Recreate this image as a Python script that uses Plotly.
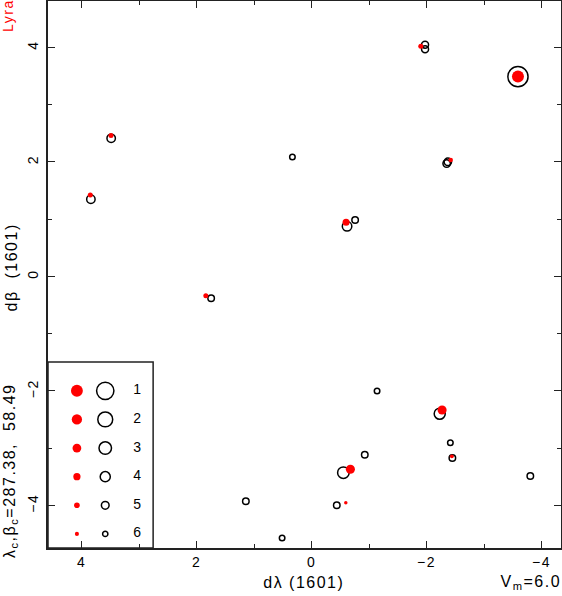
import plotly.graph_objects as go
import numpy as np

# ---- data ----
# modern positions (red filled dots)
red_dl = [-3.59, -1.90, -2.42, 3.49, 3.85, -0.60, 1.84, -2.27, -2.44, -0.675, -0.595]
red_db = [3.49, 4.02, 2.03, 2.46, 1.42, 0.943, -0.339, -2.335, -3.145, -3.371, -3.955]
red_mag = [0.9, 5.4, 5.7, 5.4, 5.4, 4.1, 5.4, 2.8, 6.1, 2.8, 6.4]

# 1601 catalogue positions (open circles)
cat_dl = [-3.59, -1.974, -1.974, -2.35, -2.37, 3.487, 3.84, 0.334, -0.617, -0.757,
          1.748, -1.139, -2.229, -2.414, -2.449, -0.925, -0.553, -3.805, 1.144,
          -0.438, 0.513]
cat_db = [3.487, 4.046, 3.966, 1.97, 2.00, 2.41, 1.345, 2.084, 0.873, 0.983,
          -0.384, -2.003, -2.40, -2.906, -3.174, -3.116, -3.43, -3.488, -3.93,
          -4.00, -4.571]
cat_mag = [-0.2, 5.3, 5.3, 5.1, 5.1, 4.7, 4.7, 5.9, 4.25, 5.5,
           5.5, 5.9, 3.6, 5.9, 5.5, 5.5, 3.4, 5.5, 5.5,
           5.5, 5.9]

legend_mags = [1, 2, 3, 4, 5, 6]
legend_labels = ["1", "2", "3", "4", "5", "6"]

x_ticks = [4, 2, 0, -2, -4]
y_ticks = [4, 2, 0, -2, -4]

constellation = "Lyra"
center_text = "λ<sub>c</sub>,β<sub>c</sub>=287.38,\u00a0 58.49"
vm_text = "V<sub>m</sub>=6.0"
x_title = "dλ\u00a0(1601)"
y_title = "dβ\u00a0 (1601)"

# ---- styling helpers ----
LINE_W = 1.5


def red_size(m):
    return [max(2.5, 13.4 - 1.55 * v) for v in m]


def open_size(m):
    return [max(5.0, 21.2 - 2.4 * v - LINE_W) for v in m]


W, H = 562, 596
L, R, T, B = 48, 1, 1, 48
XR = [4.586, -4.339]
YR = [-4.746, 4.809]
FONT = "Liberation Sans, Arial, sans-serif"

fig = go.Figure()

# open circles (catalogue)
fig.add_trace(go.Scatter(
    x=cat_dl, y=cat_db, mode="markers",
    marker=dict(symbol="circle-open", size=open_size(cat_mag), color="black",
                opacity=1, line=dict(width=LINE_W, color="black")),
    hoverinfo="skip", showlegend=False))

# red dots (modern)
fig.add_trace(go.Scatter(
    x=red_dl, y=red_db, mode="markers",
    marker=dict(symbol="circle", size=red_size(red_mag), color="#ff0000",
                opacity=1, line=dict(width=0)),
    hoverinfo="skip", showlegend=False))

# legend inside the plot
leg_y = [-2.0 - 0.5 * (m - 1) for m in legend_mags]
fig.add_trace(go.Scatter(
    x=[4.083] * len(legend_mags), y=leg_y, mode="markers",
    marker=dict(symbol="circle", size=red_size(legend_mags), color="#ff0000",
                opacity=1, line=dict(width=0)),
    hoverinfo="skip", showlegend=False))
fig.add_trace(go.Scatter(
    x=[3.59] * len(legend_mags), y=leg_y, mode="markers",
    marker=dict(symbol="circle-open", size=open_size(legend_mags), color="black",
                opacity=1, line=dict(width=LINE_W, color="black")),
    hoverinfo="skip", showlegend=False))
fig.add_trace(go.Scatter(
    x=[3.02] * len(legend_mags), y=leg_y, mode="text",
    text=legend_labels, textfont=dict(family=FONT, size=14, color="black"),
    hoverinfo="skip", showlegend=False))

fig.add_shape(type="rect", xref="x", yref="y", x0=XR[0], x1=2.757,
              y0=YR[0], y1=-1.497, line=dict(color="#222", width=1.5),
              layer="above")

axis_common = dict(
    showline=True, linecolor="#222", linewidth=1.5, mirror="allticks",
    ticks="inside", ticklen=7, tickwidth=1.2, tickcolor="#222",
    showgrid=False, zeroline=False, automargin=False,
    minor=dict(ticks="inside", ticklen=4, tickwidth=1.2, tickcolor="#222", dtick=1,
               showgrid=False),
    tickfont=dict(family=FONT, size=14, color="black"),
)

fig.update_xaxes(range=XR, tickvals=x_ticks,
                 ticktext=[str(v).replace("-", "−") for v in x_ticks],
                 ticklabelstandoff=0, **axis_common)
fig.update_yaxes(range=YR, tickvals=y_ticks,
                 ticktext=[str(v).replace("-", "−") for v in y_ticks],
                 tickangle=-90, ticklabelstandoff=3, **axis_common)


def px_x(p):
    return (p - L) / (W - L - R)


def px_y(p):
    return (H - B - p) / (H - T - B)


ann = [
    dict(text=constellation, x=px_x(8), y=px_y(16), textangle=-90,
         font=dict(color="#ff0000", size=14, family=FONT)),
    dict(text=y_title, x=px_x(11), y=px_y(268), textangle=-90,
         font=dict(color="black", size=16, family=FONT)),
    dict(text=center_text, x=px_x(10), y=px_y(471), textangle=-90,
         font=dict(color="black", size=16, family=FONT)),
    dict(text=x_title, x=px_x(304), y=px_y(582),
         font=dict(color="black", size=16, family=FONT)),
    dict(text=vm_text, x=px_x(559), y=px_y(582), xanchor="right",
         font=dict(color="black", size=16, family=FONT)),
]
for a in ann:
    a.setdefault("xanchor", "center")
    fig.add_annotation(xref="paper", yref="paper", showarrow=False,
                       yanchor="middle", **a)

fig.update_layout(
    width=W, height=H, margin=dict(l=L, r=R, t=T, b=B, pad=0, autoexpand=False),
    paper_bgcolor="white", plot_bgcolor="white",
    font=dict(family=FONT, color="black"),
)

post = (
    "document.body.style.margin='0px';"
    "document.body.style.overflow='hidden';"
    "document.querySelectorAll('.main-svg text').forEach(function(t){"
    "t.style.letterSpacing='1.5px';});"
)

fig.write_html("out.html", config={"displayModeBar": False}, post_script=post)
